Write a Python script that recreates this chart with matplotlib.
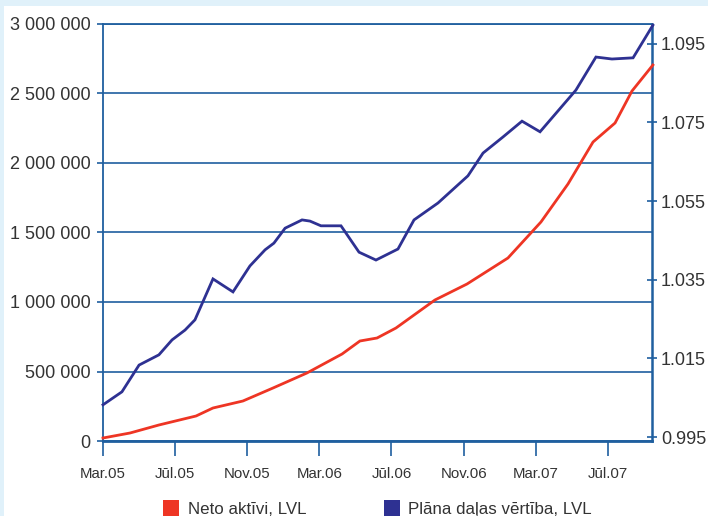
import matplotlib
matplotlib.use("Agg")
import matplotlib.pyplot as plt
from matplotlib.patches import Rectangle

plt.rcParams['font.family'] = ['Liberation Sans', 'DejaVu Sans']

# months since March 2005
red_x = [0, 1.5, 3.1, 5.16, 6.1, 7.76, 9.43, 11.31, 13.26, 14.25, 15.2, 16.25,
         18.41, 20.19, 22.46, 24.29, 25.79, 27.18, 28.4, 29.34, 30.5]
neto_aktivi = [21583, 57554, 115108, 179856, 237410, 287770, 381295, 489209,
               625899, 719424, 741007, 812950, 1014388, 1129496, 1316547,
               1575540, 1848921, 2151079, 2287770, 2517986, 2705036]

blue_x = [0, 1.05, 2.0, 3.1, 3.83, 4.55, 5.1, 6.1, 7.21, 8.15, 8.99, 9.48, 10.1,
          11.04, 11.48, 12.09, 13.2, 14.2, 15.14, 16.36, 17.25, 18.58, 20.24,
          21.08, 22.19, 23.24, 24.24, 26.23, 27.34, 28.23, 29.4, 30.5]
dalas_vertiba = [1.0032, 1.0065, 1.0133, 1.0159, 1.0197, 1.0222, 1.0248, 1.0352,
                 1.0319, 1.0385, 1.0426, 1.0443, 1.0481, 1.0502, 1.0499, 1.0487,
                 1.0487, 1.0420, 1.0400, 1.0428, 1.0502, 1.0545, 1.0614, 1.0672,
                 1.0713, 1.0753, 1.0726, 1.0832, 1.0916, 1.0911, 1.0914, 1.0997]

x_ticks = [0, 4, 8, 12, 16, 20, 24, 28]
x_labels = ['Mar.05', 'Jūl.05', 'Nov.05', 'Mar.06', 'Jūl.06', 'Nov.06', 'Mar.07', 'Jūl.07']
left_ticks = [0, 500000, 1000000, 1500000, 2000000, 2500000, 3000000]
left_labels = ['0', '500 000', '1 000 000', '1 500 000', '2 000 000', '2 500 000', '3 000 000']
right_ticks = [0.995, 1.015, 1.035, 1.055, 1.075, 1.095]
right_labels = ['0.995', '1.015', '1.035', '1.055', '1.075', '1.095']
legend_labels = ['Neto aktīvi, LVL', 'Plāna daļas vērtība, LVL']

RED = '#ee3524'
BLUE = '#2e3192'
AX = '#1f5f9f'
BG = '#e0f1fa'
TXT = '#333333'

W, H = 708, 516
fig = plt.figure(figsize=(W / 100, H / 100), dpi=100, facecolor=BG)
fig.patches.append(Rectangle((4 / W, 0), 1, (H - 6) / H, transform=fig.transFigure,
                             facecolor='white', edgecolor='none', zorder=-10))

ax = fig.add_axes([103 / W, (H - 441) / H, (652 - 103) / W, (441 - 24) / H])
ax.set_facecolor('white')
ax.set_xlim(0, 30.45)
ax.set_ylim(0, 3000000)
ax.set_yticks(left_ticks)
ax.set_yticklabels(left_labels)
ax.set_xticks(x_ticks)
ax.set_xticklabels(x_labels)
ax.grid(axis='y', color=AX, linewidth=1.2)
ax.set_axisbelow(True)
ax.tick_params(axis='y', direction='out', length=4, width=1.2, color=AX,
               labelsize=13, labelcolor=TXT, pad=5)
ax.tick_params(axis='x', direction='out', length=11, width=1.2, color=AX,
               labelsize=10.8, labelcolor=TXT, pad=8)
for s in ['left', 'top']:
    ax.spines[s].set_color(AX)
    ax.spines[s].set_linewidth(1.3)
ax.spines['bottom'].set_color(AX)
ax.spines['bottom'].set_linewidth(2.0)
ax.spines['right'].set_color(AX)
ax.spines['right'].set_linewidth(1.8)

ax.plot(red_x, neto_aktivi, color=RED, linewidth=2.0, solid_joinstyle='miter', zorder=3, clip_on=False)

ax2 = ax.twinx()
ax2.set_ylim(0.994, 1.100)
ax2.set_yticks(right_ticks)
ax2.set_yticklabels(right_labels)
ax2.tick_params(axis='y', direction='inout', length=7, width=1.2, color=AX,
                labelsize=13, labelcolor=TXT, pad=3)
for s in ax2.spines.values():
    s.set_visible(False)
ax2.plot(blue_x, dalas_vertiba, color=BLUE, linewidth=2.0, solid_joinstyle='miter', zorder=3, clip_on=False)

# legend
for (x0, col, lab, tx) in [(163, RED, legend_labels[0], 188), (384, BLUE, legend_labels[1], 408)]:
    fig.patches.append(Rectangle((x0 / W, 0), 16 / W, 16 / H, transform=fig.transFigure,
                                 facecolor=col, edgecolor='none'))
    fig.text(tx / W, 1 - 514 / H, lab, fontsize=12.2, color=TXT, va='baseline', ha='left')

fig.savefig('out.png', dpi=100, facecolor=BG)
